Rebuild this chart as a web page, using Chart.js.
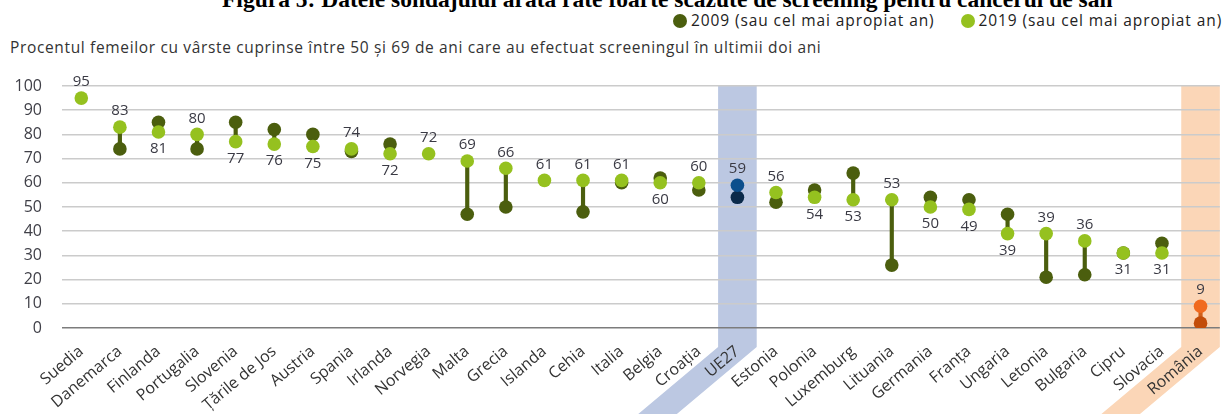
<!DOCTYPE html>
<html>
<head>
<meta charset="utf-8">
<script src="https://cdn.jsdelivr.net/npm/chart.js@4"></script>
<style>
  html, body { margin: 0; padding: 0; background: #fff; }
  #wrap { position: relative; width: 1227px; height: 414px; overflow: hidden; }
  #chart { position: absolute; left: 0; top: 0; }
  .title { position: absolute; left: 222px; top: -12.5px;
    font: bold 23.5px "Liberation Serif", serif; line-height: 23.5px; color: #000; white-space: nowrap; }
  .legend { position: absolute; top: 9px; left: 673px; font: 15.5px "Open Sans", sans-serif; letter-spacing: 0.9px; color: #222; white-space: nowrap; }
  .legend span.dot { display: inline-block; width: 14px; height: 14px; border-radius: 50%; vertical-align: -2px; margin-right: 4px; }
  .legend span.item { margin-right: 26px; }
  .subtitle { position: absolute; left: 10px; top: 36px; font: 15.5px "Open Sans", sans-serif; letter-spacing: 0.65px; color: #333; white-space: nowrap; }
</style>
</head>
<body>
<div id="wrap">
  <div class="title">Figura 5: Datele sondajului arată rate foarte scăzute de screening pentru cancerul de sân</div>
  <div class="legend">
    <span class="item"><span class="dot" style="background:#4b5e0e"></span>2009 (sau cel mai apropiat an)</span><span><span class="dot" style="background:#95c11f"></span>2019 (sau cel mai apropiat an)</span>
  </div>
  <div class="subtitle">Procentul femeilor cu vârste cuprinse între 50 și 69 de ani care au efectuat screeningul în ultimii doi ani</div>
  <canvas id="chart" width="1227" height="414"></canvas>
</div>
<script>
const categories = ['Suedia', 'Danemarca', 'Finlanda', 'Portugalia', 'Slovenia', 'Țările de Jos', 'Austria', 'Spania', 'Irlanda', 'Norvegia',
  'Malta', 'Grecia', 'Islanda', 'Cehia', 'Italia', 'Belgia', 'Croația', 'UE27', 'Estonia', 'Polonia',
  'Luxemburg', 'Lituania', 'Germania', 'Franța', 'Ungaria', 'Letonia', 'Bulgaria', 'Cipru', 'Slovacia', 'România'];
const values2009 = [null, 74, 85, 74, 85, 82, 80, 73, 76, null,
  47, 50, null, 48, 60, 62, 57, 54, 52, 57,
  64, 26, 54, 53, 47, 21, 22, 31, 35, 2];
const values2019 = [95, 83, 81, 80, 77, 76, 75, 74, 72, 72,
  69, 66, 61, 61, 61, 60, 60, 59, 56, 54,
  53, 53, 50, 49, 39, 39, 36, 31, 31, 9];
const yTicks = [0, 10, 20, 30, 40, 50, 60, 70, 80, 90, 100];

const highlightEU = 'UE27';
const highlightRO = 'România';

const DARK = '#4b5e0e';
const LIGHT = '#95c11f';

function colorFor(label, base, eu, ro) {
  if (label === highlightEU) return eu;
  if (label === highlightRO) return ro;
  return base;
}

const dark09 = categories.map((c) => colorFor(c, DARK, '#0b2a4a', '#c24d0a'));
const light19 = categories.map((c) => colorFor(c, LIGHT, '#0c4f8c', '#f06a1f'));
const stemColors = categories.map((c) => colorFor(c, DARK, '#0b2a4a', '#d2601a'));

// bands behind the highlighted categories, slanting down with the tick labels
const bandPlugin = {
  id: 'bands',
  beforeDraw(chart) {
    const { ctx, chartArea, scales } = chart;
    const x = scales.x;
    const half = (x.getPixelForValue(1) - x.getPixelForValue(0)) / 2;
    const turnY = chartArea.bottom + 19;
    const slope = 1 / Math.tan(40 * Math.PI / 180);
    const drop = chart.height - turnY;
    [[highlightEU, '#bcc8e2'], [highlightRO, '#fbd6b7']].forEach(([name, col]) => {
      const idx = categories.indexOf(name);
      const cx = x.getPixelForValue(idx);
      const l = cx - half, r = cx + half;
      ctx.save();
      ctx.fillStyle = col;
      ctx.beginPath();
      ctx.moveTo(l, chartArea.top);
      ctx.lineTo(r, chartArea.top);
      ctx.lineTo(r, turnY);
      ctx.lineTo(r - drop * slope, chart.height);
      ctx.lineTo(l - drop * slope, chart.height);
      ctx.lineTo(l, turnY);
      ctx.closePath();
      ctx.fill();
      ctx.restore();
    });
  }
};

// value labels for the 2019 series
const labelPlugin = {
  id: 'valueLabels',
  afterDatasetsDraw(chart) {
    const { ctx, scales } = chart;
    ctx.save();
    ctx.font = '15px "Open Sans", sans-serif';
    ctx.fillStyle = '#3a3a44';
    ctx.textAlign = 'center';
    ctx.textBaseline = 'middle';
    values2019.forEach((v, i) => {
      if (v == null) return;
      const old = values2009[i];
      const below = old != null && old >= v;
      const px = scales.x.getPixelForValue(i);
      const py = scales.y.getPixelForValue(v) + (below ? 17 : -16);
      ctx.fillText(String(v), px, py);
    });
    ctx.restore();
  }
};

new Chart(document.getElementById('chart'), {
  data: {
    labels: categories,
    datasets: [
      {
        type: 'bar',
        data: categories.map((c, i) => (values2009[i] == null ? null : [values2009[i], values2019[i]])),
        backgroundColor: stemColors,
        barThickness: 3.5,
        order: 3,
      },
      {
        type: 'line',
        label: '2009 (sau cel mai apropiat an)',
        data: values2009,
        showLine: false,
        pointRadius: 6.8,
        pointBackgroundColor: dark09,
        pointBorderWidth: 0,
        order: 2,
      },
      {
        type: 'line',
        label: '2019 (sau cel mai apropiat an)',
        data: values2019,
        showLine: false,
        pointRadius: 6.8,
        pointBackgroundColor: light19,
        pointBorderWidth: 0,
        order: 1,
      },
    ],
  },
  options: {
    responsive: false,
    animation: false,
    layout: { padding: { top: 86, right: 7, left: 0, bottom: 0 } },
    plugins: {
      legend: { display: false },
      tooltip: { enabled: false },
    },
    scales: {
      x: {
        offset: true,
        grid: { display: false, drawTicks: false },
        border: { display: false },
        ticks: {
          minRotation: 40,
          maxRotation: 40,
          autoSkip: false,
          padding: 14,
          color: '#333',
          font: { family: 'Open Sans', size: 16 },
        },
        afterFit: (scale) => { scale.height = 86; },
      },
      y: {
        min: 0,
        max: 100,
        afterBuildTicks: (scale) => { scale.ticks = yTicks.map((v) => ({ value: v })); },
        grid: {
          drawTicks: false,
          color: (ctx) => (ctx.tick && ctx.tick.value === 0 ? '#7c7c7c' : '#cbcbcb'),
          lineWidth: 1.5,
        },
        border: { display: false },
        ticks: {
          padding: 20,
          color: '#404048',
          font: { family: 'Open Sans', size: 16 },
        },
        afterFit: (scale) => { scale.width = 62; },
      },
    },
  },
  plugins: [bandPlugin, labelPlugin],
});
</script>
</body>
</html>
